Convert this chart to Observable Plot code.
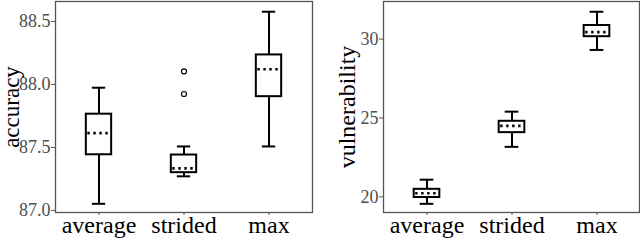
<!DOCTYPE html>
<html>
<head>
<meta charset="utf-8">
<script src="https://cdn.jsdelivr.net/npm/d3@7"></script>
<script src="https://cdn.jsdelivr.net/npm/@observablehq/plot@0.6"></script>
<style>
  html, body { margin: 0; padding: 0; background: #fff; }
  #wrap { display: flex; width: 640px; height: 241px; overflow: hidden; }
  #wrap svg { display: block; flex: none; }
  #wrap svg, #wrap svg text { font-family: 'Liberation Serif', 'Times New Roman', serif !important; }
</style>
</head>
<body>
<div id="wrap"></div>
<script>
const categories = ["average", "strided", "max"];

// left panel: accuracy
const accLow    = [87.053, 87.271, 87.508];
const accQ1     = [87.442, 87.300, 87.903];
const accMedian = [87.614, 87.334, 88.121];
const accQ3     = [87.764, 87.440, 88.234];
const accHigh   = [87.974, 87.508, 88.577];
const accOutCat = ["strided", "strided"];
const accOutVal = [88.103, 87.924];
const accTicks  = [87.0, 87.5, 88.0, 88.5];

// right panel: vulnerability
const vulLow    = [19.56, 23.17, 29.31];
const vulQ1     = [19.96, 24.07, 30.15];
const vulMedian = [20.23, 24.50, 30.44];
const vulQ3     = [20.48, 24.79, 30.86];
const vulHigh   = [21.09, 25.40, 31.73];
const vulTicks  = [20, 25, 30];

const FONT = "'Liberation Serif', 'Times New Roman', serif";

function panel({label, low, q1, med, q3, high, outCat, outVal, ticks, domain, marginLeft, marginRight, labelX, labelSize, tickFormat}) {
  const rows = categories.map((c, i) => ({cat: c, low: low[i], q1: q1[i], med: med[i], q3: q3[i], high: high[i]}));
  const outs = (outCat || []).map((c, i) => ({cat: c, v: outVal[i]}));
  const step = (320 - marginLeft - marginRight) / 3;
  const boxInset = (step - 26) / 2;
  const capInset = (step - 14) / 2;
  return Plot.plot({
    width: 320,
    height: 241,
    marginLeft,
    marginRight,
    marginTop: 1,
    marginBottom: 29,
    style: {fontFamily: FONT, background: "white", overflow: "visible"},
    x: {type: "band", domain: categories, padding: 0},
    y: {domain, ticks},
    marks: [
      Plot.axisY({ticks, tickSize: 4, tickPadding: 1, fontSize: 18, fontFamily: FONT, stroke: "#555", fill: "#4d4d4d", label: null, tickFormat}),
      Plot.axisX({tickSize: 3, tickPadding: 0, fontSize: 24, fontFamily: FONT, stroke: "#555", fill: "black", label: null}),
      Plot.ruleX(rows, {x: "cat", y1: "low", y2: "q1", stroke: "black", strokeWidth: 2}),
      Plot.ruleX(rows, {x: "cat", y1: "q3", y2: "high", stroke: "black", strokeWidth: 2}),
      Plot.tickY(rows, {x: "cat", y: "low", stroke: "black", strokeWidth: 2, insetLeft: capInset, insetRight: capInset}),
      Plot.tickY(rows, {x: "cat", y: "high", stroke: "black", strokeWidth: 2, insetLeft: capInset, insetRight: capInset}),
      Plot.barY(rows, {x: "cat", y1: "q1", y2: "q3", fill: "white", stroke: "black", strokeWidth: 2, insetLeft: boxInset, insetRight: boxInset}),
      Plot.tickY(rows, {x: "cat", y: "med", stroke: "black", strokeWidth: 2.6, strokeDasharray: "2.4,3.6", insetLeft: boxInset + 1.5, insetRight: boxInset}),
      Plot.dot(outs, {x: "cat", y: "v", r: 2.5, stroke: "black", strokeWidth: 1.2, fill: "none"}),
      Plot.frame({stroke: "#555", strokeWidth: 1.3}),
      Plot.text([label], {frameAnchor: "left", rotate: -90, dx: labelX - marginLeft, fontSize: labelSize, fontFamily: FONT, fill: "black", textAnchor: "middle", lineAnchor: "middle"})
    ]
  });
}

const wrap = document.getElementById("wrap");
wrap.appendChild(panel({
  label: "accuracy", low: accLow, q1: accQ1, med: accMedian, q3: accQ3, high: accHigh,
  outCat: accOutCat, outVal: accOutVal, ticks: accTicks, domain: [86.984, 88.658],
  marginLeft: 55, marginRight: 8, labelX: 11, labelSize: 23, tickFormat: d3.format(".1f")
}));
wrap.appendChild(panel({
  label: "vulnerability", low: vulLow, q1: vulQ1, med: vulMedian, q3: vulQ3, high: vulHigh,
  outCat: [], outVal: [], ticks: vulTicks, domain: [19.01, 32.38],
  marginLeft: 63, marginRight: 1, labelX: 27, labelSize: 24, tickFormat: d3.format("d")
}));
</script>
</body>
</html>
